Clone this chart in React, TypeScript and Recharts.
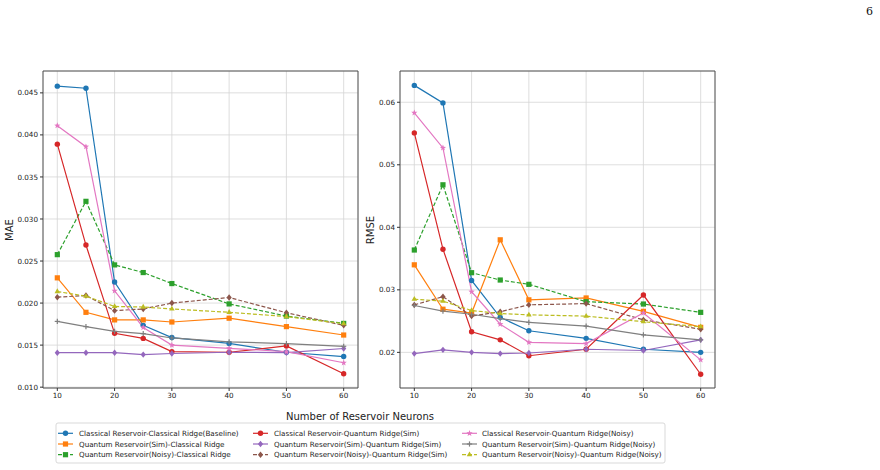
import { LineChart, Line, XAxis, YAxis, CartesianGrid, ReferenceArea } from "recharts"

// reservoir sizes on the x axis
const neurons = [10, 15, 20, 25, 30, 40, 50, 60]

const seriesNames = [
  "Classical Reservoir-Classical Ridge(Baseline)",
  "Quantum Reservoir(Sim)-Classical Ridge",
  "Quantum Reservoir(Noisy)-Classical Ridge",
  "Classical Reservoir-Quantum Ridge(Sim)",
  "Quantum Reservoir(Sim)-Quantum Ridge(Sim)",
  "Quantum Reservoir(Noisy)-Quantum Ridge(Sim)",
  "Classical Reservoir-Quantum Ridge(Noisy)",
  "Quantum Reservoir(Sim)-Quantum Ridge(Noisy)",
  "Quantum Reservoir(Noisy)-Quantum Ridge(Noisy)",
]

// MAE, same order as seriesNames
const maeBaseline = [0.0458, 0.04555, 0.0225, 0.01735, 0.0159, 0.0152, 0.01415, 0.01364]
const maeSimClassical = [0.0230, 0.0189, 0.0180, 0.0180, 0.01775, 0.0182, 0.0172, 0.0162]
const maeNoisyClassical = [0.02576, 0.0321, 0.02454, 0.02363, 0.02232, 0.0199, 0.01846, 0.01758]
const maeClassicalQSim = [0.0389, 0.0269, 0.0164, 0.0158, 0.01423, 0.01415, 0.0149, 0.0116]
const maeSimQSim = [0.0141, 0.0141, 0.0141, 0.01387, 0.0140, 0.01415, 0.0141, 0.0146]
const maeNoisyQSim = [0.0207, 0.0209, 0.0191, 0.0193, 0.0200, 0.02066, 0.01885, 0.01735]
const maeClassicalQNoisy = [0.0411, 0.0386, 0.02146, 0.0171, 0.0150, 0.01462, 0.01423, 0.0129]
const maeSimQNoisy = [0.01782, 0.0172, 0.01664, 0.01636, 0.01585, 0.01538, 0.01518, 0.01486]
const maeNoisyQNoisy = [0.02137, 0.02083, 0.0196, 0.01953, 0.0193, 0.0189, 0.0184, 0.01755]

// RMSE, same order as seriesNames
const rmseBaseline = [0.0627, 0.0599, 0.0315, 0.0256, 0.02346, 0.02224, 0.0205, 0.0200]
const rmseSimClassical = [0.0340, 0.0269, 0.0263, 0.0380, 0.0284, 0.0287, 0.02656, 0.0240]
const rmseNoisyClassical = [0.03637, 0.0468, 0.03274, 0.03157, 0.03088, 0.0281, 0.02773, 0.0264]
const rmseClassicalQSim = [0.0551, 0.0365, 0.0233, 0.0220, 0.01946, 0.0205, 0.02917, 0.0165]
const rmseSimQSim = [0.0198, 0.0204, 0.0200, 0.0198, 0.0199, 0.0205, 0.0203, 0.0220]
const rmseNoisyQSim = [0.0276, 0.0289, 0.0258, 0.0265, 0.0276, 0.0278, 0.0252, 0.0237]
const rmseClassicalQNoisy = [0.0583, 0.0527, 0.0297, 0.0245, 0.0216, 0.0214, 0.0263, 0.0188]
const rmseSimQNoisy = [0.0275, 0.0266, 0.0261, 0.0254, 0.0248, 0.0242, 0.0228, 0.0220]
const rmseNoisyQNoisy = [0.0285, 0.0282, 0.0267, 0.0262, 0.0260, 0.0258, 0.0249, 0.0241]

const maeSeries = [
  maeBaseline, maeSimClassical, maeNoisyClassical,
  maeClassicalQSim, maeSimQSim, maeNoisyQSim,
  maeClassicalQNoisy, maeSimQNoisy, maeNoisyQNoisy,
]
const rmseSeries = [
  rmseBaseline, rmseSimClassical, rmseNoisyClassical,
  rmseClassicalQSim, rmseSimQSim, rmseNoisyQSim,
  rmseClassicalQNoisy, rmseSimQNoisy, rmseNoisyQNoisy,
]

const xTicks = [10, 20, 30, 40, 50, 60]
const maeTicks = [0.010, 0.015, 0.020, 0.025, 0.030, 0.035, 0.040, 0.045]
const rmseTicks = [0.02, 0.03, 0.04, 0.05, 0.06]

// tab10 look
const styles = [
  { color: "#1f77b4", marker: "circle", dashed: false },
  { color: "#ff7f0e", marker: "square", dashed: false },
  { color: "#2ca02c", marker: "square", dashed: true },
  { color: "#d62728", marker: "circle", dashed: false },
  { color: "#9467bd", marker: "diamond", dashed: false },
  { color: "#8c564b", marker: "diamond", dashed: true },
  { color: "#e377c2", marker: "star", dashed: false },
  { color: "#7f7f7f", marker: "plus", dashed: false },
  { color: "#bcbd22", marker: "triangle", dashed: true },
]

const FONT = "'DejaVu Sans', sans-serif"

function Marker({ cx, cy, kind, color }: { cx: number; cy: number; kind: string; color: string }) {
  if (cx == null || cy == null) return null
  if (kind === "circle") return <circle cx={cx} cy={cy} r={2.7} fill={color} />
  if (kind === "square") return <rect x={cx - 2.6} y={cy - 2.6} width={5.2} height={5.2} fill={color} />
  if (kind === "diamond") {
    const w = 2.6, h = 3.2
    return <polygon points={`${cx},${cy - h} ${cx + w},${cy} ${cx},${cy + h} ${cx - w},${cy}`} fill={color} />
  }
  if (kind === "triangle") {
    const r = 3.2
    return <polygon points={`${cx},${cy - r} ${cx + r * 0.87},${cy + r * 0.5} ${cx - r * 0.87},${cy + r * 0.5}`} fill={color} />
  }
  if (kind === "star") {
    const pts: string[] = []
    for (let k = 0; k < 10; k++) {
      const r = k % 2 === 0 ? 3.3 : 1.4
      const a = -Math.PI / 2 + (k * Math.PI) / 5
      pts.push(`${cx + r * Math.cos(a)},${cy + r * Math.sin(a)}`)
    }
    return <polygon points={pts.join(" ")} fill={color} />
  }
  // plus
  return (
    <g stroke={color} strokeWidth={1.2}>
      <line x1={cx - 2.6} y1={cy} x2={cx + 2.6} y2={cy} />
      <line x1={cx} y1={cy - 2.6} x2={cx} y2={cy + 2.6} />
    </g>
  )
}

type PanelProps = {
  series: number[][]
  domain: [number, number]
  ticks: number[]
  digits: number
  axisWidth: number
  rightMargin: number
}

function Panel({ series, domain, ticks, digits, axisWidth, rightMargin }: PanelProps) {
  const rows = neurons.map((n, i) => {
    const row: Record<string, number> = { n }
    series.forEach((s, k) => { row["s" + k] = s[i] })
    return row
  })

  return (
    <LineChart
      width={axisWidth + 315 + rightMargin}
      height={410}
      data={rows}
      margin={{ top: 71, right: rightMargin, bottom: 0, left: 0 }}
    >
      <CartesianGrid stroke="#d6d6d6" strokeWidth={0.8} />
      <XAxis
        dataKey="n"
        type="number"
        domain={[7.5, 62.5]}
        ticks={xTicks}
        interval={0}
        height={22}
        axisLine={false}
        tickSize={3}
        tickMargin={2}
        tickLine={{ stroke: "#333" }}
        tick={{ fontSize: 7.2, fill: "#222", fontFamily: FONT }}
      />
      <YAxis
        type="number"
        domain={domain}
        ticks={ticks}
        interval={0}
        width={axisWidth}
        allowDataOverflow
        axisLine={false}
        tickSize={3}
        tickMargin={2}
        tickLine={{ stroke: "#333" }}
        tickFormatter={(v: number) => v.toFixed(digits)}
        tick={{ fontSize: 7.2, fill: "#222", fontFamily: FONT }}
      />
      {styles.map((st, k) => (
        <Line
          key={k}
          dataKey={"s" + k}
          stroke={st.color}
          strokeWidth={1.2}
          strokeDasharray={st.dashed ? "4 2" : undefined}
          isAnimationActive={false}
          dot={(p: any) => <Marker key={`${k}-${p.index}`} cx={p.cx} cy={p.cy} kind={st.marker} color={st.color} />}
          activeDot={false}
        />
      ))}
      <ReferenceArea
        x1={7.5}
        x2={62.5}
        y1={domain[0]}
        y2={domain[1]}
        fill="none"
        fillOpacity={0}
        stroke="#444"
        strokeWidth={0.9}
        ifOverflow="visible"
      />
    </LineChart>
  )
}

function LegendBox() {
  const textX = [79, 274, 482]
  const lineX = [58, 253, 462]
  const rowY = [433.3, 444, 454.7]
  return (
    <g>
      <rect x={56} y={423} width={609} height={40} rx={2} fill="#fff" stroke="#cfcfcf" strokeWidth={0.8} />
      {seriesNames.map((name, k) => {
        const col = Math.floor(k / 3)
        const row = k % 3
        const st = styles[k]
        const y = rowY[row]
        const x0 = lineX[col]
        return (
          <g key={name}>
            <line
              x1={x0}
              y1={y}
              x2={x0 + 15}
              y2={y}
              stroke={st.color}
              strokeWidth={1.2}
              strokeDasharray={st.dashed ? "4 2" : undefined}
            />
            <Marker cx={x0 + 7.5} cy={y} kind={st.marker} color={st.color} />
            <text x={textX[col]} y={y} dominantBaseline="central" fontSize={7.2} fill="#222" fontFamily={FONT}>
              {name}
            </text>
          </g>
        )
      })}
    </g>
  )
}

export default function App() {
  return (
    <div style={{ position: "absolute", top: 0, left: 0, width: 880, height: 470, background: "#fff", overflow: "hidden" }}>
      <div style={{ position: "absolute", left: 0, top: 0 }}>
        <Panel series={maeSeries} domain={[0.0099, 0.0476]} ticks={maeTicks} digits={3} axisWidth={43} rightMargin={12} />
      </div>
      <div style={{ position: "absolute", left: 360, top: 0 }}>
        <Panel series={rmseSeries} domain={[0.0143, 0.065]} ticks={rmseTicks} digits={2} axisWidth={40} rightMargin={14} />
      </div>
      <svg width={880} height={470} style={{ position: "absolute", left: 0, top: 0, pointerEvents: "none" }}>
        <text x={866} y={15} fontSize={11} fontFamily="'DejaVu Serif', serif" fill="#111">6</text>
        <text
          x={13}
          y={230}
          transform="rotate(-90 13 230)"
          textAnchor="middle"
          fontSize={10}
          fill="#222"
          fontFamily={FONT}
        >
          MAE
        </text>
        <text
          x={374}
          y={230}
          transform="rotate(-90 374 230)"
          textAnchor="middle"
          fontSize={10}
          fill="#222"
          fontFamily={FONT}
        >
          RMSE
        </text>
        <text x={360} y={420} textAnchor="middle" fontSize={10} fill="#222" fontFamily={FONT}>
          Number of Reservoir Neurons
        </text>
        <LegendBox />
      </svg>
    </div>
  )
}
